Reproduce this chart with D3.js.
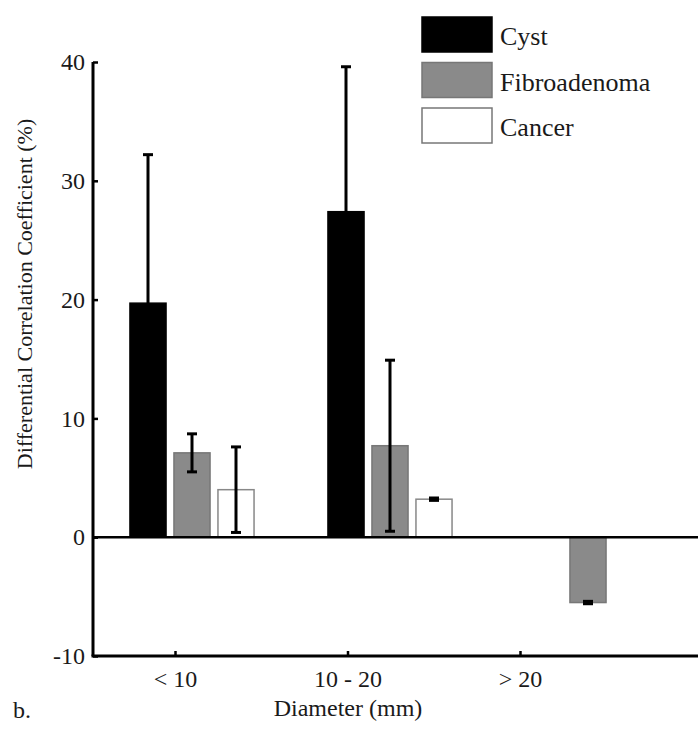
<!DOCTYPE html>
<html><head><meta charset="utf-8">
<script src="https://cdn.jsdelivr.net/npm/d3@7"></script>
<style>body{margin:0;background:#fff}svg{display:block}text{font-family:"Liberation Serif","Times New Roman","DejaVu Serif",serif;fill:#1a1a1a}</style>
</head><body><svg id="c" width="698" height="737"></svg>
<script>
const categories = ["< 10", "10 - 20", "> 20"];
const seriesNames = ["Cyst", "Fibroadenoma", "Cancer"];
const cyst = [19.7, 27.4, null];
const fibro = [7.1, 7.7, -5.5];
const cancer = [4.0, 3.2, null];
const cystErr = [12.5, 12.2, null];
const fibroErr = [1.6, 7.2, 0.1];
const cancerErr = [3.6, 0.1, null];
const yTicks = [-10, 0, 10, 20, 30, 40];

const colors = {"Cyst":"#000", "Fibroadenoma":"#8a8a8a", "Cancer":"#fff"};
const strokes = {"Cyst":"#000", "Fibroadenoma":"#777", "Cancer":"#888"};
const values = [cyst, fibro, cancer];
const errs = [cystErr, fibroErr, cancerErr];

const svg = d3.select("#c");
const mLeft = 93, mRight = 698, mTop = 62, mBottom = 656;
const y = d3.scaleLinear().domain([-10, 40]).range([mBottom, mTop]);
const xg = d3.scaleBand().domain(categories).range([93, 687]);
const xs = d3.scaleBand().domain(seriesNames).range([0, xg.bandwidth()]).paddingInner(0.18).paddingOuter(0.84);
const xt = d3.scalePoint().domain(categories).range([175, 520]);

seriesNames.forEach((s, si) => {
  categories.forEach((c, ci) => {
    const v = values[si][ci];
    if (v == null) return;
    const x0 = xg(c) + xs(s);
    const w = xs.bandwidth();
    svg.append("rect")
      .attr("x", x0).attr("width", w)
      .attr("y", Math.min(y(v), y(0))).attr("height", Math.abs(y(v) - y(0)))
      .attr("fill", colors[s]).attr("stroke", strokes[s]).attr("stroke-width", 1.5);
  });
});
seriesNames.forEach((s, si) => {
  categories.forEach((c, ci) => {
    const v = values[si][ci], e = errs[si][ci];
    if (v == null || e == null) return;
    const cx = xg(c) + xs(s) + xs.bandwidth() / 2;
    const g = svg.append("g").attr("stroke", "#000").attr("stroke-width", 3);
    g.append("line").attr("x1", cx).attr("x2", cx).attr("y1", y(v - e)).attr("y2", y(v + e));
    [v - e, v + e].forEach(t => g.append("line").attr("x1", cx - 5).attr("x2", cx + 5).attr("y1", y(t)).attr("y2", y(t)));
  });
});

svg.append("line").attr("x1", mLeft).attr("x2", mRight).attr("y1", y(0)).attr("y2", y(0))
  .attr("stroke", "#000").attr("stroke-width", 2.5);

const ya = svg.append("g").attr("transform", `translate(${mLeft},0)`)
  .call(d3.axisLeft(y).tickValues(yTicks).tickSize(-5).tickPadding(8).tickFormat(d3.format("d")));
ya.select(".domain").attr("stroke", "#000").attr("stroke-width", 3).attr("d", `M0,${mTop}V${mBottom}`);
ya.selectAll(".tick line").attr("stroke", "#000").attr("stroke-width", 2.5);
ya.selectAll(".tick text").attr("font-size", 24).attr("fill", "#1a1a1a").text(d => d < 0 ? "-" + Math.abs(d) : d);

const xa = svg.append("g").attr("transform", `translate(0,${mBottom})`)
  .call(d3.axisBottom(xt).tickSize(-5).tickPadding(14));
xa.select(".domain").attr("stroke", "#000").attr("stroke-width", 3).attr("d", `M${mLeft - 1.5},0H${mRight}`);
xa.selectAll(".tick line").attr("stroke", "#000").attr("stroke-width", 2.5);
xa.selectAll(".tick text").attr("font-size", 24).attr("fill", "#1a1a1a");

svg.append("text").attr("x", 348).attr("y", 716).attr("text-anchor", "middle").attr("font-size", 24).text("Diameter (mm)");
svg.append("text").attr("transform", "translate(32,294) rotate(-90)").attr("text-anchor", "middle").attr("font-size", 22).text("Differential Correlation Coefficient (%)");
svg.append("text").attr("x", 13).attr("y", 718).attr("font-size", 24).text("b.");

const lg = svg.append("g").attr("transform", "translate(422,17)");
seriesNames.forEach((s, i) => {
  const gy = i * 45.5;
  lg.append("rect").attr("x", 0).attr("y", gy).attr("width", 70).attr("height", 35)
    .attr("fill", colors[s]).attr("stroke", s === "Cyst" ? "#000" : "#777").attr("stroke-width", 1.5);
  lg.append("text").attr("x", 78).attr("y", gy + 28).attr("font-size", 26).text(s);
});
</script></body></html>
